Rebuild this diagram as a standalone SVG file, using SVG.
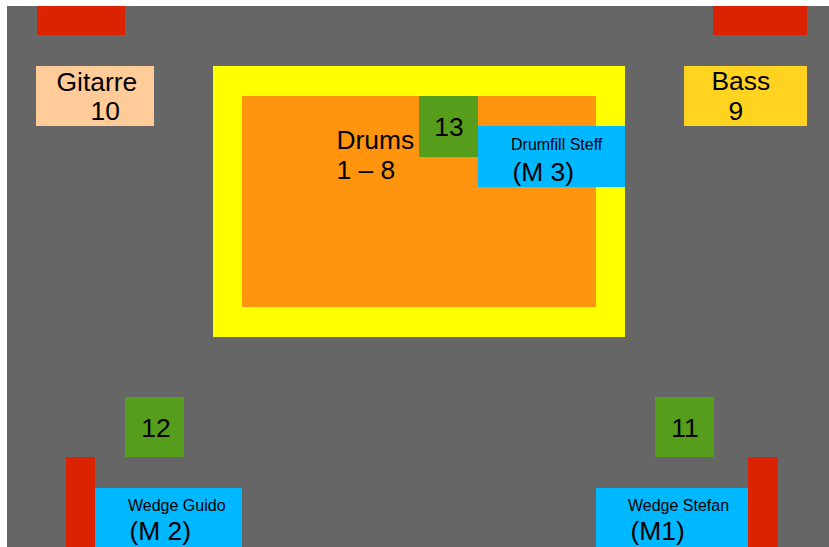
<svg xmlns="http://www.w3.org/2000/svg" width="829" height="547" viewBox="0 0 829 547">
<style>
text{font-family:"Liberation Sans",Arial,sans-serif;fill:#000}
.big{font-size:26.4px}
.small{font-size:16px}
.red{fill:#DC2300}
.green{fill:#579D1C}
.blue{fill:#00B8FF}
</style>
<rect x="0" y="0" width="829" height="547" fill="#FFFFFF"/>
<rect x="7" y="6" width="822" height="541" fill="#666666"/>
<g id="speaker-top-left"><rect class="red" x="37" y="6" width="88" height="29"/></g>
<g id="speaker-top-right"><rect class="red" x="713" y="6" width="94" height="29"/></g>
<g id="gitarre"><rect x="36" y="66" width="118" height="60" fill="#FFCC99"/><text class="big" x="56.5" y="91">Gitarre</text><text class="big" x="90.5" y="120">10</text></g>
<g id="bass"><rect x="684" y="66" width="123" height="60" fill="#FFD320"/><text class="big" x="711.5" y="90">Bass</text><text class="big" x="728.5" y="120">9</text></g>
<g id="riser"><rect x="213" y="66" width="412" height="271" fill="#FFFF00"/></g>
<g id="drums"><rect x="242" y="96" width="354" height="211" fill="#FF950E"/><text class="big" x="336.5" y="149">Drums</text><text class="big" x="336.5" y="179">1 – 8</text></g>
<g id="mic13"><rect class="green" x="419" y="96" width="59" height="61"/><text class="big" x="449" y="136" text-anchor="middle">13</text></g>
<g id="drumfill"><rect class="blue" x="478" y="126" width="147" height="61"/><text class="small" x="511" y="150">Drumfill Steff</text><text class="big" x="512.5" y="181">(M 3)</text></g>
<g id="mic12"><rect class="green" x="125" y="397" width="59" height="60"/><text class="big" x="156" y="437" text-anchor="middle">12</text></g>
<g id="speaker-bottom-left"><rect class="red" x="66" y="457" width="29" height="90"/></g>
<g id="wedge-guido"><rect class="blue" x="95" y="488" width="147" height="59"/><text class="small" x="128" y="511">Wedge Guido</text><text class="big" x="129.5" y="540">(M 2)</text></g>
<g id="mic11"><rect class="green" x="655" y="397" width="59" height="60"/><text class="big" x="685" y="437" text-anchor="middle">11</text></g>
<g id="speaker-bottom-right"><rect class="red" x="748" y="457" width="30" height="90"/></g>
<g id="wedge-stefan"><rect class="blue" x="596" y="488" width="152" height="59"/><text class="small" x="628" y="511">Wedge Stefan</text><text class="big" x="630.5" y="540">(M1)</text></g>
</svg>
